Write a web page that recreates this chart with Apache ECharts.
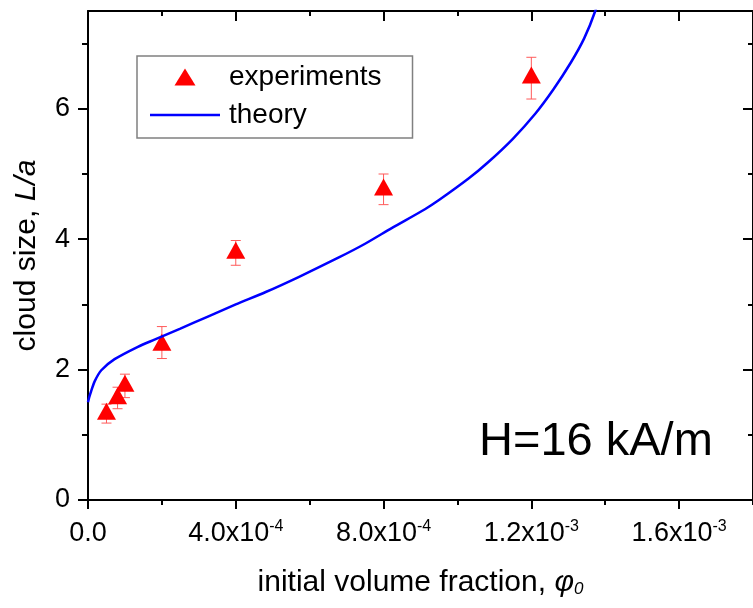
<!DOCTYPE html>
<html>
<head>
<meta charset="utf-8">
<script src="https://cdn.jsdelivr.net/npm/echarts@6/dist/echarts.min.js"></script>
<style>
  html, body { margin: 0; padding: 0; background: #fff; }
  #chart { width: 753px; height: 608px; }
</style>
</head>
<body>
<div id="chart"></div>
<script>
// experiments: volume fraction, L/a and its error range
const expX = [0.5e-4, 0.8e-4, 1.0e-4, 2.0e-4, 4.0e-4, 8.0e-4, 1.2e-3];
const expY = [1.36, 1.60, 1.79, 2.42, 3.83, 4.80, 6.52];
const expLow = [1.18, 1.40, 1.57, 2.17, 3.60, 4.53, 6.15];
const expHigh = [1.47, 1.73, 1.93, 2.66, 3.98, 5.00, 6.79];

// theory curve
const thX = [0, 0.03e-4, 0.08e-4, 0.18e-4, 0.36e-4, 0.72e-4, 1.35e-4, 1.8e-4, 2.5e-4,
  3.23e-4, 4.0e-4, 4.81e-4, 5.7e-4, 6.79e-4, 7.5e-4, 8.22e-4, 9.12e-4, 9.5e-4,
  1.03e-3, 1.083e-3, 1.15e-3, 1.21e-3, 1.26e-3, 1.307e-3, 1.343e-3, 1.373e-3, 1.39e-3];
const thY = [1.50, 1.57, 1.66, 1.82, 1.99, 2.16, 2.35, 2.46, 2.63,
  2.81, 3.00, 3.19, 3.42, 3.72, 3.93, 4.17, 4.46, 4.60,
  4.93, 5.18, 5.54, 5.92, 6.30, 6.71, 7.08, 7.50, 7.85];

// axis ticks
const xMajor = [0, 4e-4, 8e-4, 1.2e-3, 1.6e-3];
const xLabels = ['0.0', '4.0x10{s|-4}', '8.0x10{s|-4}', '1.2x10{s|-3}', '1.6x10{s|-3}'];
const xMinor = [2e-4, 6e-4, 1.0e-3, 1.4e-3, 1.8e-3];
const yMajor = [0, 2, 4, 6];
const yLabels = ['0', '2', '4', '6'];
const yMinor = [1, 3, 5, 7];

const font = '"Liberation Sans", Arial, sans-serif';
const errColor = '#ff5a5a';
const axisStyle = { color: '#000', width: 2 };

const chart = echarts.init(document.getElementById('chart'));

const expData = expX.map((x, i) => [x, expY[i]]);
const errData = expX.map((x, i) => [x, expLow[i], expHigh[i]]);
const thData = thX.map((x, i) => [x, thY[i]]);

const pick = (vals, labels, v) => {
  const i = vals.findIndex(t => Math.abs(t - v) < 1e-9);
  return i < 0 ? '' : labels[i];
};

const xBase = { type: 'value', min: 0, max: 1.8e-3, splitLine: { show: false } };
const yBase = { type: 'value', min: 0, max: 7.5, splitLine: { show: false } };

const option = {
  animation: false,
  grid: { left: 88, top: 11, width: 668, height: 489 },
  legend: {
    orient: 'vertical',
    left: 137,
    top: 56,
    padding: [6, 31, 8, 13],
    itemGap: 8,
    itemWidth: 70,
    itemHeight: 17,
    borderColor: '#808080',
    borderWidth: 1.5,
    textStyle: { fontSize: 28, fontFamily: font, color: '#000', lineHeight: 30, padding: [0, 0, 0, 4] },
    data: [
      { name: 'experiments', icon: 'path://M0,17 L10.5,0 L21,17 Z' },
      { name: 'theory', icon: 'path://M0,0 H70 V2.5 H0 Z' }
    ]
  },
  xAxis: [
    Object.assign({}, xBase, {
      position: 'bottom',
      axisLine: { onZero: false, lineStyle: axisStyle },
      axisTick: { customValues: xMajor, length: 9, lineStyle: axisStyle },
      axisLabel: {
        customValues: xMajor,
        margin: 19,
        color: '#000',
        fontSize: 27,
        fontFamily: font,
        lineHeight: 30,
        formatter: v => pick(xMajor, xLabels, v),
        rich: { s: { fontSize: 16, fontFamily: font, lineHeight: 16, verticalAlign: 'top', color: '#000' } }
      },
      name: 'initial volume fraction, {p|φ}{sub|0}',
      nameLocation: 'middle',
      nameGap: 68,
      nameTextStyle: {
        fontSize: 30, fontFamily: font, color: '#000', lineHeight: 30,
        rich: {
          p: { fontSize: 30, fontFamily: font, fontStyle: 'italic', color: '#000', lineHeight: 30 },
          sub: { fontSize: 17, fontFamily: font, fontStyle: 'italic', color: '#000', lineHeight: 10, verticalAlign: 'bottom' }
        }
      }
    }),
    Object.assign({}, xBase, {
      position: 'bottom',
      axisLine: { show: false, onZero: false },
      axisTick: { customValues: xMinor, length: 5, lineStyle: axisStyle },
      axisLabel: { show: false }
    }),
    Object.assign({}, xBase, {
      position: 'top',
      axisLine: { onZero: false, lineStyle: axisStyle },
      axisTick: { customValues: xMajor, length: 10, inside: true, lineStyle: axisStyle },
      axisLabel: { show: false }
    }),
    Object.assign({}, xBase, {
      position: 'top',
      axisLine: { show: false, onZero: false },
      axisTick: { customValues: xMinor, length: 5, inside: true, lineStyle: axisStyle },
      axisLabel: { show: false }
    })
  ],
  yAxis: [
    Object.assign({}, yBase, {
      position: 'left',
      axisLine: { show: true, onZero: false, lineStyle: axisStyle },
      axisTick: { show: true, customValues: yMajor, length: 10, lineStyle: axisStyle },
      axisLabel: {
        customValues: yMajor,
        margin: 18,
        color: '#000',
        fontSize: 27,
        fontFamily: font,
        formatter: v => pick(yMajor, yLabels, v)
      },
      name: 'cloud size, {i|L/a}',
      nameLocation: 'middle',
      nameGap: 46,
      nameTextStyle: {
        fontSize: 30, fontFamily: font, color: '#000', lineHeight: 30,
        rich: { i: { fontSize: 30, fontFamily: font, fontStyle: 'italic', color: '#000', lineHeight: 30 } }
      }
    }),
    Object.assign({}, yBase, {
      position: 'left',
      axisLine: { show: false, onZero: false },
      axisTick: { show: true, customValues: yMinor, length: 6, lineStyle: axisStyle },
      axisLabel: { show: false }
    }),
    Object.assign({}, yBase, {
      position: 'right',
      axisLine: { show: true, onZero: false, lineStyle: axisStyle },
      axisTick: { show: true, customValues: yMajor, length: 10, inside: true, lineStyle: axisStyle },
      axisLabel: { show: false }
    }),
    Object.assign({}, yBase, {
      position: 'right',
      axisLine: { show: false, onZero: false },
      axisTick: { show: true, customValues: yMinor, length: 5, inside: true, lineStyle: axisStyle },
      axisLabel: { show: false }
    })
  ],
  graphic: [{
    type: 'text',
    x: 479,
    y: 442,
    style: { text: 'H=16 kA/m', font: '47px ' + font, fill: '#000', verticalAlign: 'middle' }
  }],
  series: [
    {
      name: 'errors',
      type: 'custom',
      z: 2,
      encode: { x: 0, y: [1, 2] },
      data: errData,
      renderItem: (params, api) => {
        const x = api.value(0);
        const lo = api.coord([x, api.value(1)]);
        const hi = api.coord([x, api.value(2)]);
        const w = 5;
        const style = { stroke: errColor, lineWidth: 1 };
        return {
          type: 'group',
          children: [
            { type: 'line', shape: { x1: lo[0], y1: lo[1], x2: hi[0], y2: hi[1] }, style },
            { type: 'line', shape: { x1: lo[0] - w, y1: lo[1], x2: lo[0] + w, y2: lo[1] }, style },
            { type: 'line', shape: { x1: hi[0] - w, y1: hi[1], x2: hi[0] + w, y2: hi[1] }, style }
          ]
        };
      }
    },
    {
      name: 'experiments',
      type: 'scatter',
      z: 3,
      symbol: 'triangle',
      symbolSize: [19, 17],
      itemStyle: { color: '#ff0000', opacity: 1 },
      data: expData
    },
    {
      name: 'theory',
      type: 'line',
      z: 4,
      symbol: 'none',
      smooth: 0.25,
      lineStyle: { color: '#0000ff', width: 2.5 },
      itemStyle: { color: '#0000ff' },
      data: thData
    }
  ]
};

chart.setOption(option);
</script>
</body>
</html>
